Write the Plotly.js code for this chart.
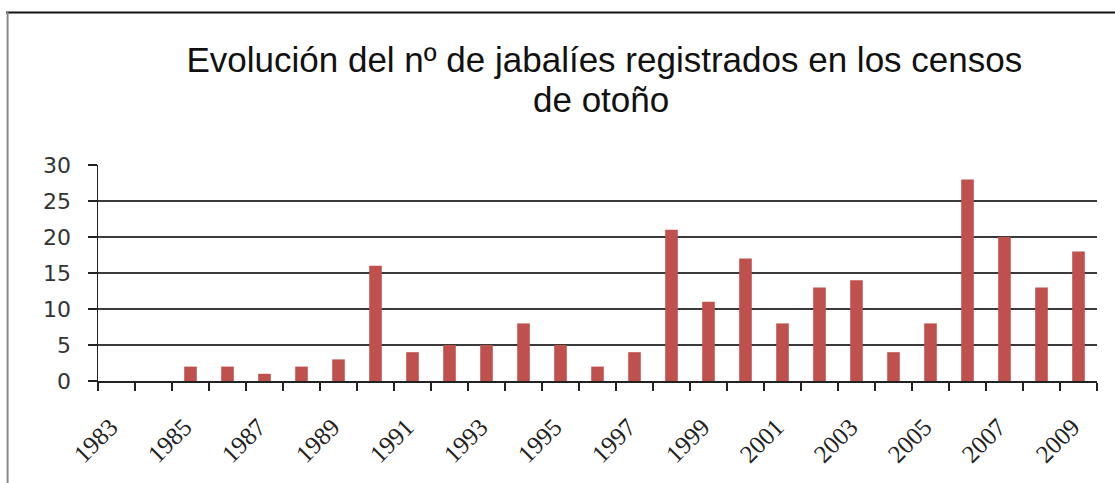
<!DOCTYPE html>
<html><head><meta charset="utf-8">
<script src="https://cdn.plot.ly/plotly-3.0.1.min.js"></script>
<style>html,body{margin:0;padding:0;background:#fff}#chart{width:1115px;height:483px}</style>
</head><body><div id="chart"></div>
<script>
var years = ["1983","1984","1985","1986","1987","1988","1989","1990","1991","1992","1993","1994","1995","1996","1997","1998","1999","2000","2001","2002","2003","2004","2005","2006","2007","2008","2009"];
var boars = [0,0,2,2,1,2,3,16,4,5,5,8,5,2,4,21,11,17,8,13,14,4,8,28,20,13,18];
var tickLabels = years.map(function(y,i){return i%2===0?y:"";});
var titleLine1 = "Evolución del nº de jabalíes registrados en los censos";
var titleLine2 = "de otoño";

var titleFont = {family:"Liberation Sans, Arial, sans-serif", size:35, color:"#111"};
var trace = {type:"bar", x:years, y:boars, marker:{color:"#C0504D"}, hoverinfo:"x+y"};
var layout = {
  width:1115, height:483,
  margin:{l:98, r:18, t:165, b:102},
  paper_bgcolor:"#fff", plot_bgcolor:"#fff",
  bargap:0.66,
  showlegend:false,
  title:{text:titleLine1, x:0.542, xanchor:"center", y:0.876, yanchor:"middle", yref:"container", font:titleFont},
  annotations:[
    {text:titleLine2, xref:"paper", yref:"paper", x:0.504, y:1.305, xanchor:"center", yanchor:"middle", showarrow:false, font:titleFont}
  ],
  xaxis:{type:"category", tickmode:"array", tickvals:years, ticktext:tickLabels,
         tickson:"boundaries", ticks:"outside", ticklen:8, tickcolor:"#222", tickwidth:1.5,
         tickangle:-45, showline:true, linecolor:"#222", linewidth:1.5, showgrid:false,
         ticklabelstandoff:20, ticklabelshift:-6,
         tickfont:{family:"Liberation Serif, Times New Roman, serif", size:25, color:"#222"}},
  yaxis:{range:[0,30], dtick:5, tick0:0, ticks:"outside", ticklen:9, tickcolor:"#222", tickwidth:1.5,
         showline:true, linecolor:"#222", linewidth:1.5, showgrid:true, gridcolor:"#3a3a3a", gridwidth:2,
         zeroline:false, ticklabelstandoff:12,
         tickfont:{family:"DejaVu Sans, Verdana, sans-serif", size:22, color:"#333"}},
  shapes:[
    {type:"line", xref:"paper", yref:"paper", x0:-0.092, x1:1.05, y0:1.706, y1:1.706, line:{color:"#111", width:2}},
    {type:"line", xref:"paper", yref:"paper", x0:-0.0905, x1:-0.0905, y0:1.71, y1:-0.6, line:{color:"#888", width:2}}
  ]
};
Plotly.newPlot("chart",[trace],layout,{displayModeBar:false, staticPlot:true});
</script></body></html>
